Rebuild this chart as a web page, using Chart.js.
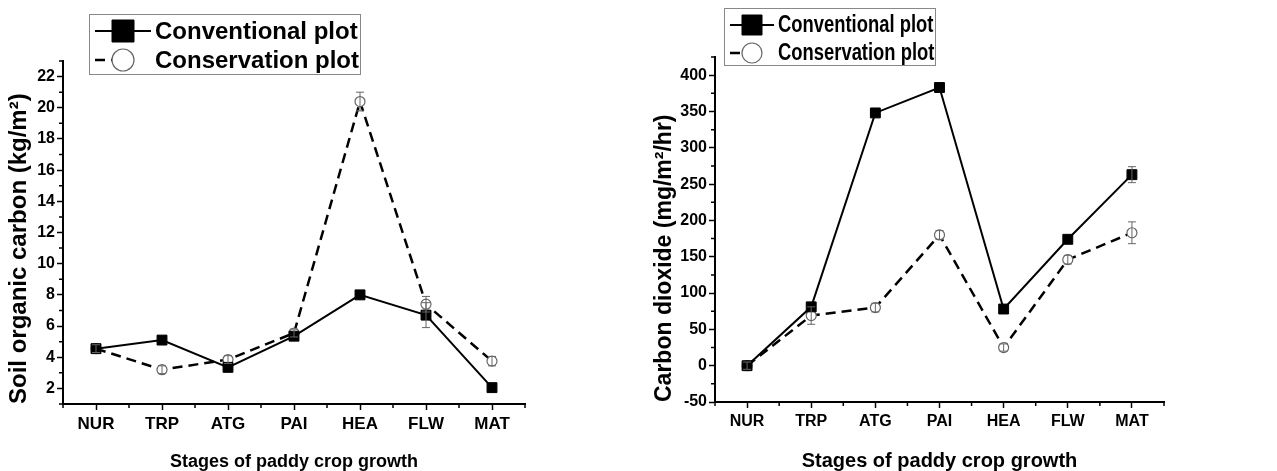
<!DOCTYPE html>
<html>
<head>
<meta charset="utf-8">
<script src="https://cdn.jsdelivr.net/npm/chart.js@4.4.0/dist/chart.umd.min.js"></script>
<style>
body { margin: 0; background: #fff; }
.panel { position: absolute; top: 0; height: 471px; }
</style>
</head>
<body>
<div class="panel" style="left:0;width:640px"><canvas id="soc"></canvas></div>
<div class="panel" style="left:640px;width:637px"><canvas id="co2"></canvas></div>
<script>
// growth stages on the x axis
var stages = ['NUR', 'TRP', 'ATG', 'PAI', 'HEA', 'FLW', 'MAT'];

// left panel: soil organic carbon (kg/m2)
var socConventional = [4.55, 5.1, 3.35, 5.35, 8.0, 6.7, 2.05];
var socConventionalErr = [0, 0, 0, 0, 0, 0.8, 0];
var socConservation = [4.55, 3.2, 3.85, 5.55, 20.4, 7.4, 3.75];
var socConservationErr = [0.25, 0.25, 0.25, 0.25, 0.6, 0.5, 0.3];
var socTicks = [2, 4, 6, 8, 10, 12, 14, 16, 18, 20, 22];

// right panel: carbon dioxide (mg/m2/hr)
var co2Conventional = [0, 81, 348, 383, 78, 174, 263];
var co2ConventionalErr = [0, 0, 0, 0, 0, 0, 11];
var co2Conservation = [0, 69, 80, 180, 25, 146, 183];
var co2ConservationErr = [5, 12, 6, 6, 5, 6, 15];
var co2Ticks = [-50, 0, 50, 100, 150, 200, 250, 300, 350, 400];

var sans = "'Liberation Sans', Arial, sans-serif";
Chart.defaults.font.family = sans;
Chart.defaults.color = '#000';

var errorBars = {
    id: 'errorBars',
    afterDatasetsDraw: function (chart) {
        var ctx = chart.ctx, y = chart.scales.y;
        chart.data.datasets.forEach(function (ds, i) {
            var meta = chart.getDatasetMeta(i);
            ctx.save();
            ctx.strokeStyle = '#666';
            ctx.lineWidth = 1;
            meta.data.forEach(function (pt, j) {
                if (!ds.errors[j]) return;
                var top = y.getPixelForValue(ds.data[j] + ds.errors[j]);
                var bot = y.getPixelForValue(ds.data[j] - ds.errors[j]);
                ctx.beginPath();
                ctx.moveTo(pt.x, top); ctx.lineTo(pt.x, bot);
                ctx.moveTo(pt.x - 4, top); ctx.lineTo(pt.x + 4, top);
                ctx.moveTo(pt.x - 4, bot); ctx.lineTo(pt.x + 4, bot);
                ctx.stroke();
            });
            ctx.restore();
        });
    }
};

// short ticks between the labelled ones
var minorTicks = {
    id: 'minorTicks',
    afterDraw: function (chart, args, o) {
        var ctx = chart.ctx, x = chart.scales.x, y = chart.scales.y;
        var area = chart.chartArea;
        ctx.save();
        ctx.strokeStyle = '#000';
        ctx.lineWidth = 1.5;
        ctx.beginPath();
        for (var i = 0; i <= stages.length; i++) {
            var px = x.getPixelForValue(i - 0.5);
            ctx.moveTo(px, area.bottom); ctx.lineTo(px, area.bottom + 4);
        }
        for (var v = y.min; v <= y.max; v += o.step) {
            if (o.major.indexOf(v) >= 0) continue;
            var py = y.getPixelForValue(v);
            ctx.moveTo(area.left, py); ctx.lineTo(area.left - 4, py);
        }
        ctx.stroke();
        ctx.restore();
    }
};

var boxLegend = {
    id: 'boxLegend',
    afterDraw: function (chart, args, o) {
        var ctx = chart.ctx;
        ctx.save();
        ctx.fillStyle = '#fff';
        ctx.fillRect(o.x, o.y, o.w, o.h);
        ctx.strokeStyle = '#888';
        ctx.lineWidth = 1;
        ctx.strokeRect(o.x + 0.5, o.y + 0.5, o.w, o.h);
        chart.data.datasets.forEach(function (ds, i) {
            var cy = o.rows[i];
            ctx.strokeStyle = '#000';
            ctx.lineWidth = ds.borderWidth;
            ctx.setLineDash(ds.borderDash || []);
            ctx.beginPath();
            ctx.moveTo(o.lineFrom, cy); ctx.lineTo(o.lineTo[i], cy);
            ctx.stroke();
            ctx.setLineDash([]);
            ctx.fillStyle = ds.pointBackgroundColor;
            ctx.strokeStyle = ds.pointBorderColor;
            ctx.lineWidth = ds.pointBorderWidth;
            ctx.beginPath();
            if (ds.pointStyle === 'rect') {
                ctx.rect(o.markerX - o.marker, cy - o.marker, o.marker * 2, o.marker * 2);
            } else {
                ctx.arc(o.markerX, cy, o.marker, 0, Math.PI * 2);
            }
            ctx.fill();
            ctx.stroke();
            // the right panel's legend is set in a narrow face
            ctx.save();
            ctx.translate(o.textX, cy + 1);
            ctx.scale(o.squeeze, 1);
            ctx.fillStyle = '#000';
            ctx.font = 'bold ' + o.fontSize + 'px ' + sans;
            ctx.textBaseline = 'middle';
            ctx.fillText(ds.label, 0, 0);
            ctx.restore();
        });
        ctx.restore();
    }
};

function datasets(conv, convErr, cons, consErr) {
    return [
        {
            label: 'Conventional plot',
            data: conv,
            errors: convErr,
            borderColor: '#000',
            borderWidth: 2,
            pointStyle: 'rect',
            pointRadius: 7,
            pointBackgroundColor: '#000',
            pointBorderColor: '#000',
            pointBorderWidth: 1
        },
        {
            label: 'Conservation plot',
            data: cons,
            errors: consErr,
            borderColor: '#000',
            borderWidth: 2.5,
            borderDash: [10, 6],
            pointStyle: 'circle',
            pointRadius: 5,
            pointBackgroundColor: '#fff',
            pointBorderColor: '#666',
            pointBorderWidth: 1.2
        }
    ];
}

function makeChart(elem, cfg) {
    var axisGrid = { display: true, drawOnChartArea: false, tickLength: 6, tickWidth: 1.5, tickColor: '#000' };
    var axisBorder = { display: true, color: '#000', width: 2 };
    new Chart(elem, {
        type: 'line',
        data: { labels: stages, datasets: cfg.datasets },
        plugins: [errorBars, minorTicks, boxLegend],
        options: {
            responsive: true,
            maintainAspectRatio: false,
            animation: false,
            layout: { padding: cfg.padding },
            plugins: {
                legend: { display: false },
                tooltip: { enabled: false },
                minorTicks: { step: cfg.minorStep, major: cfg.ticks },
                boxLegend: cfg.legend
            },
            scales: {
                x: {
                    offset: true,
                    grid: axisGrid,
                    border: axisBorder,
                    afterFit: function (s) { s.height = cfg.xHeight; },
                    ticks: { font: { size: cfg.xTickSize, weight: 'bold' }, padding: 4, maxRotation: 0 },
                    title: {
                        display: true,
                        text: 'Stages of paddy crop growth',
                        font: { size: cfg.xTitleSize, weight: 'bold', lineHeight: 1 },
                        padding: { top: 0, bottom: 0 }
                    }
                },
                y: {
                    min: cfg.min,
                    max: cfg.max,
                    grid: axisGrid,
                    border: axisBorder,
                    afterFit: function (s) { s.width = cfg.yWidth; },
                    afterBuildTicks: function (s) {
                        s.ticks = cfg.ticks.map(function (v) { return { value: v }; });
                    },
                    ticks: { font: { size: cfg.yTickSize, weight: 'bold' }, padding: 2 },
                    title: {
                        display: true,
                        text: cfg.yTitle,
                        align: 'start',
                        font: { size: cfg.yTitleSize, weight: 'bold' },
                        padding: { top: cfg.yTitlePad, bottom: 0 }
                    }
                }
            }
        }
    });
}

makeChart(document.getElementById('soc'), {
    datasets: datasets(socConventional, socConventionalErr, socConservation, socConservationErr),
    min: 1, max: 23, ticks: socTicks, minorStep: 1,
    padding: { left: 0, top: 61, right: 115, bottom: 0 },
    xHeight: 67, yWidth: 63,
    xTickSize: 17, yTickSize: 16,
    xTitleSize: 18,
    yTitle: 'Soil organic carbon (kg/m\u00b2)', yTitleSize: 24, yTitlePad: 5,
    legend: {
        x: 89, y: 14, w: 271, h: 60, rows: [31, 60],
        lineFrom: 95, lineTo: [151, 123], markerX: 123, marker: 11,
        textX: 155, fontSize: 24, squeeze: 1
    }
});

makeChart(document.getElementById('co2'), {
    datasets: datasets(co2Conventional, co2ConventionalErr, co2Conservation, co2ConservationErr),
    min: -50, max: 425, ticks: co2Ticks, minorStep: 25,
    padding: { left: 0, top: 57, right: 113, bottom: 0 },
    xHeight: 69, yWidth: 75,
    xTickSize: 16, yTickSize: 16,
    xTitleSize: 20,
    yTitle: 'Carbon dioxide (mg/m\u00b2/hr)', yTitleSize: 23, yTitlePad: 11,
    legend: {
        x: 84, y: 8, w: 211, h: 57, rows: [25, 53],
        lineFrom: 90, lineTo: [134, 112], markerX: 112, marker: 10,
        textX: 138, fontSize: 23, squeeze: 0.8
    }
});
</script>
</body>
</html>
